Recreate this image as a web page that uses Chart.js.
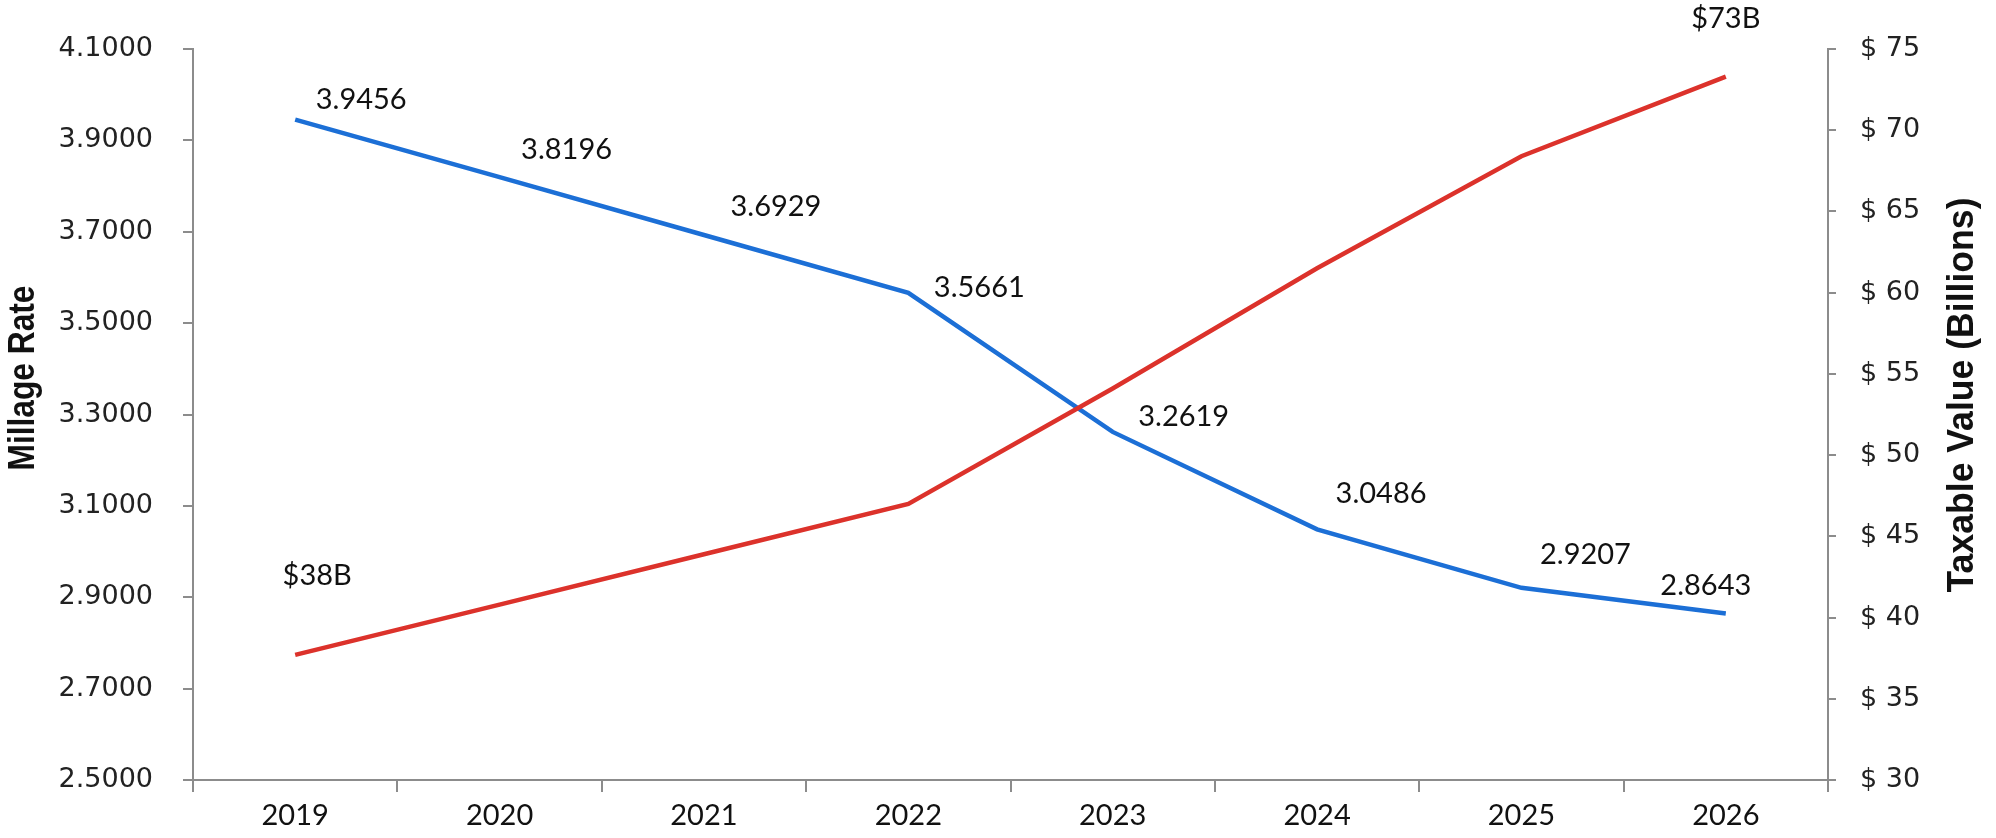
<!DOCTYPE html>
<html>
<head>
<meta charset="utf-8">
<script src="https://cdn.jsdelivr.net/npm/chart.js@4.4.1/dist/chart.umd.min.js"></script>
<style>
  html, body { margin: 0; padding: 0; background: #fff; }
  #wrap { width: 1996px; height: 838px; }
</style>
</head>
<body>
<div id="wrap"><canvas id="chart" width="1996" height="838"></canvas></div>
<script>
// values
const years = ['2019', '2020', '2021', '2022', '2023', '2024', '2025', '2026'];
const millageRate = [3.9456, 3.8196, 3.6929, 3.5661, 3.2619, 3.0486, 2.9207, 2.8643];
const taxableValue = [37.7, 40.8, 43.9, 47.0, 54.1, 61.5, 68.4, 73.3];
const millageText = millageRate.map(v => v.toFixed(4));
const taxableText = ['$38B', '', '', '', '', '', '', '$73B'];
const millageTicks = [2.5, 2.7, 2.9, 3.1, 3.3, 3.5, 3.7, 3.9, 4.1];
const taxableTicks = [30, 35, 40, 45, 50, 55, 60, 65, 70, 75];

// where each value label sits relative to its point
const millageOffsets = [[66, -20], [67, -27], [72, -28], [71, -5], [71, -15], [64, -36], [64, -33], [-20, -28]];
const taxableOffsets = [[22, -79], [0, 0], [0, 0], [0, 0], [0, 0], [0, 0], [0, 0], [0, -58]];

const axisColor = '#8c8c8c';
const labelFont = 'Lato';

const pointText = {
    id: 'pointText',
    afterDatasetsDraw(chart) {
        const ctx = chart.ctx;
        ctx.save();
        ctx.font = '29px ' + labelFont;
        ctx.fillStyle = '#111';
        ctx.textAlign = 'center';
        ctx.textBaseline = 'middle';
        chart.data.datasets.forEach((ds, di) => {
            const meta = chart.getDatasetMeta(di);
            meta.data.forEach((pt, i) => {
                const txt = ds.pointText[i];
                if (!txt) return;
                const off = ds.textOffset[i];
                ctx.fillText(txt, pt.x + off[0], pt.y + off[1]);
            });
        });
        ctx.restore();
    }
};

// condensed bold title, read bottom-to-top like the original
function drawTitle(ctx, text, x, y, size, length) {
    ctx.save();
    ctx.font = 'bold ' + size + 'px "Liberation Sans", Arial, sans-serif';
    ctx.fillStyle = '#111';
    ctx.textAlign = 'center';
    ctx.textBaseline = 'middle';
    ctx.translate(x, y);
    ctx.rotate(-Math.PI / 2);
    ctx.scale(length / ctx.measureText(text).width, 1);
    ctx.fillText(text, 0, 0);
    ctx.restore();
}

const axisTitles = {
    id: 'axisTitles',
    afterDraw(chart) {
        drawTitle(chart.ctx, 'Millage Rate', 24, 378, 36, 185);
        drawTitle(chart.ctx, 'Taxable Value (Billions)', 1963, 395, 37, 395);
    }
};

new Chart(document.getElementById('chart'), {
    type: 'line',
    data: {
        labels: years,
        datasets: [
            {
                label: 'Millage Rate',
                data: millageRate,
                yAxisID: 'y',
                borderColor: '#1c6fd6',
                borderWidth: 4.5,
                pointRadius: 0,
                tension: 0,
                order: 2,
                pointText: millageText,
                textOffset: millageOffsets
            },
            {
                label: 'Taxable Value',
                data: taxableValue,
                yAxisID: 'y1',
                borderColor: '#dc322b',
                borderWidth: 4.5,
                pointRadius: 0,
                tension: 0,
                order: 1,
                pointText: taxableText,
                textOffset: taxableOffsets
            }
        ]
    },
    options: {
        responsive: false,
        animation: false,
        layout: { padding: { top: 49, left: 0, right: 0, bottom: 0 } },
        plugins: {
            legend: { display: false },
            tooltip: { enabled: false }
        },
        scales: {
            x: {
                offset: true,
                grid: { offset: true, drawOnChartArea: false, drawTicks: true, tickLength: 12, color: axisColor, lineWidth: 2 },
                border: { display: true, color: axisColor, width: 2 },
                ticks: { font: { family: labelFont, size: 29 }, color: '#111', padding: 6, maxRotation: 0 },
                afterFit: s => { s.height = 58; }
            },
            y: {
                position: 'left',
                min: 2.5,
                max: 4.1,
                afterBuildTicks: s => { s.ticks = millageTicks.map(v => ({ value: v })); },
                grid: { drawOnChartArea: false, drawTicks: true, tickLength: 10, color: axisColor, lineWidth: 2 },
                border: { display: true, color: axisColor, width: 2 },
                ticks: {
                    font: { family: 'DejaVu Sans', size: 27 },
                    color: '#222',
                    padding: 30,
                    callback: v => Number(v).toFixed(4)
                },
                afterFit: s => { s.width = 193; }
            },
            y1: {
                position: 'right',
                min: 30,
                max: 75,
                afterBuildTicks: s => { s.ticks = taxableTicks.map(v => ({ value: v })); },
                grid: { drawOnChartArea: false, drawTicks: true, tickLength: 8, color: axisColor, lineWidth: 2 },
                border: { display: true, color: axisColor, width: 2 },
                ticks: {
                    font: { family: 'DejaVu Sans', size: 27 },
                    color: '#222',
                    padding: 24,
                    callback: v => '$ ' + v
                },
                afterFit: s => { s.width = 168; }
            }
        }
    },
    plugins: [pointText, axisTitles]
});
</script>
</body>
</html>
